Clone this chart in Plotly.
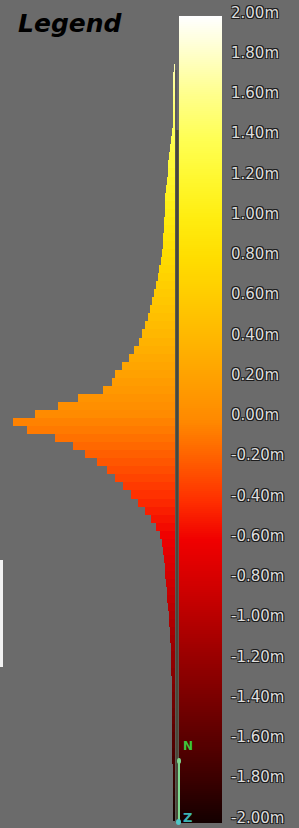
import plotly.graph_objects as go
import numpy as np

W, H = 299, 828
BG = "#6b6b6b"

# Histogram (bin width 0.04 m), counts listed from top bin (1.725 m) downward
bin_width = 0.04
top_bin_center = 1.725
counts = [1.5, 2, 2, 2, 2, 2, 2, 2.5, 3, 4, 5, 6, 7, 7, 8, 9, 10, 10, 10, 11, 11, 12, 12, 13, 14,
          16, 17, 19, 21, 23, 25, 27, 30, 33, 36, 41, 46, 53, 60, 63, 72, 97, 117, 140, 162, 148,
          120, 102, 90, 78, 68, 60, 52, 44, 37, 30, 24, 19, 15, 13, 12, 11, 10, 10, 9, 8, 8, 7,
          6, 6, 5, 5, 4, 4, 4, 4, 3.5, 3.5, 3.5, 3, 3, 3, 3, 3, 3, 3, 3, 2, 2, 2, 2, 2, 2, 2]
bin_centers = [round(top_bin_center - bin_width * i, 3) for i in range(len(counts))]

# Colour legend
tick_values = [2.0, 1.8, 1.6, 1.4, 1.2, 1.0, 0.8, 0.6, 0.4, 0.2, 0.0,
               -0.2, -0.4, -0.6, -0.8, -1.0, -1.2, -1.4, -1.6, -1.8, -2.0]
tick_labels = [f"{v:.2f}m" for v in tick_values]
cmin, cmax = -2.0, 2.0

stop_colors = ["#140000", "#380000", "#580000", "#780000", "#960000", "#b50000",
               "#d50000", "#f00000", "#ff3000", "#ff5e00", "#ff8a00", "#ffa000",
               "#ffb600", "#ffca00", "#ffdd00", "#ffed10", "#fff830", "#ffff55",
               "#ffff88", "#ffffc4", "#ffffff"]
colorscale = [[i / (len(stop_colors) - 1), c] for i, c in enumerate(stop_colors)]

cb_levels = np.linspace(cmin, cmax, 401)

fig = go.Figure()

fig.add_trace(go.Bar(
    x=counts, y=bin_centers, orientation="h", width=bin_width,
    marker=dict(color=bin_centers, colorscale=colorscale, cmin=cmin, cmax=cmax,
                line=dict(width=0)),
    xaxis="x", yaxis="y", showlegend=False, hoverinfo="skip",
))

fig.add_trace(go.Heatmap(
    x=[0], y=cb_levels, z=[[v] for v in cb_levels],
    colorscale=colorscale, zmin=cmin, zmax=cmax, showscale=False,
    xaxis="x2", yaxis="y2", hoverinfo="skip",
))

def px(x):
    return x / W

def py(y):
    return 1 - y / H

shadow = "1px 1px 0px #1c1c1c, -1px -1px 0px #1c1c1c, 1px -1px 0px #1c1c1c, -1px 1px 0px #1c1c1c"

annotations = []
for v, t in zip(tick_values, tick_labels):
    annotations.append(dict(
        x=px(229), xref="paper", xanchor="left",
        y=v, yref="y", yanchor="middle",
        text=t, showarrow=False,
        font=dict(family="DejaVu Sans", size=15, color="#dedede", shadow=shadow),
    ))

annotations.append(dict(
    x=px(16), xref="paper", xanchor="left", y=py(23), yref="paper", yanchor="middle",
    text="<b><i>Legend</i></b>", showarrow=False,
    font=dict(family="DejaVu Sans", size=25, color="#000000"),
))
annotations.append(dict(
    x=px(188), xref="paper", xanchor="center", y=py(746), yref="paper", yanchor="middle",
    text="<b>N</b>", showarrow=False,
    font=dict(family="DejaVu Sans", size=12, color="#3cc63c"),
))
annotations.append(dict(
    x=px(187), xref="paper", xanchor="center", y=py(817), yref="paper", yanchor="middle",
    text="<b>Z</b>", showarrow=False,
    font=dict(family="DejaVu Sans", size=13, color="#3cb4b4"),
))

shapes = [
    # dark baseline between histogram and colour bar
    dict(type="line", xref="paper", yref="paper", x0=px(177), x1=px(177),
         y0=py(130), y1=py(822), line=dict(color="#4a4839", width=3)),
    dict(type="line", xref="paper", yref="paper", x0=px(176), x1=px(176),
         y0=py(70), y1=py(130), line=dict(color="#5a5a60", width=2)),
    # north arrow
    dict(type="line", xref="paper", yref="paper", x0=px(179), x1=px(179),
         y0=py(822), y1=py(762), line=dict(color="#7fd88f", width=2)),
    dict(type="circle", xref="paper", yref="paper", x0=px(177), x1=px(181),
         y0=py(764), y1=py(758), fillcolor="#7fd88f", line=dict(width=0)),
    dict(type="circle", xref="paper", yref="paper", x0=px(176), x1=px(181),
         y0=py(825), y1=py(819), fillcolor="#4fc8c8", line=dict(width=0)),
    # white border strip at left
    dict(type="rect", xref="paper", yref="paper", x0=0, x1=px(3),
         y0=py(667), y1=py(560), fillcolor="#f2f2f2", line=dict(width=0)),
]

fig.update_layout(
    width=W, height=H,
    margin=dict(l=0, r=0, t=0, b=0),
    paper_bgcolor=BG, plot_bgcolor=BG,
    bargap=0,
    xaxis=dict(domain=[0, px(175)], range=[175, 0], visible=False, fixedrange=True),
    yaxis=dict(domain=[0, 1], range=[(415 - H) / 201.25, 415 / 201.25], visible=False),
    xaxis2=dict(domain=[px(179), px(222)], range=[-0.5, 0.5], visible=False, anchor="y2"),
    yaxis2=dict(domain=[0, 1], range=[-2 - 6 / 201.25, 2 + 17 / 201.25], visible=False,
                anchor="x2"),
    annotations=annotations,
    shapes=shapes,
)

fig.write_html(
    "out.html",
    config={"displayModeBar": False, "staticPlot": True},
    post_script="document.body.style.margin='0';document.body.style.padding='0';"
                "document.body.style.overflow='hidden';",
)
